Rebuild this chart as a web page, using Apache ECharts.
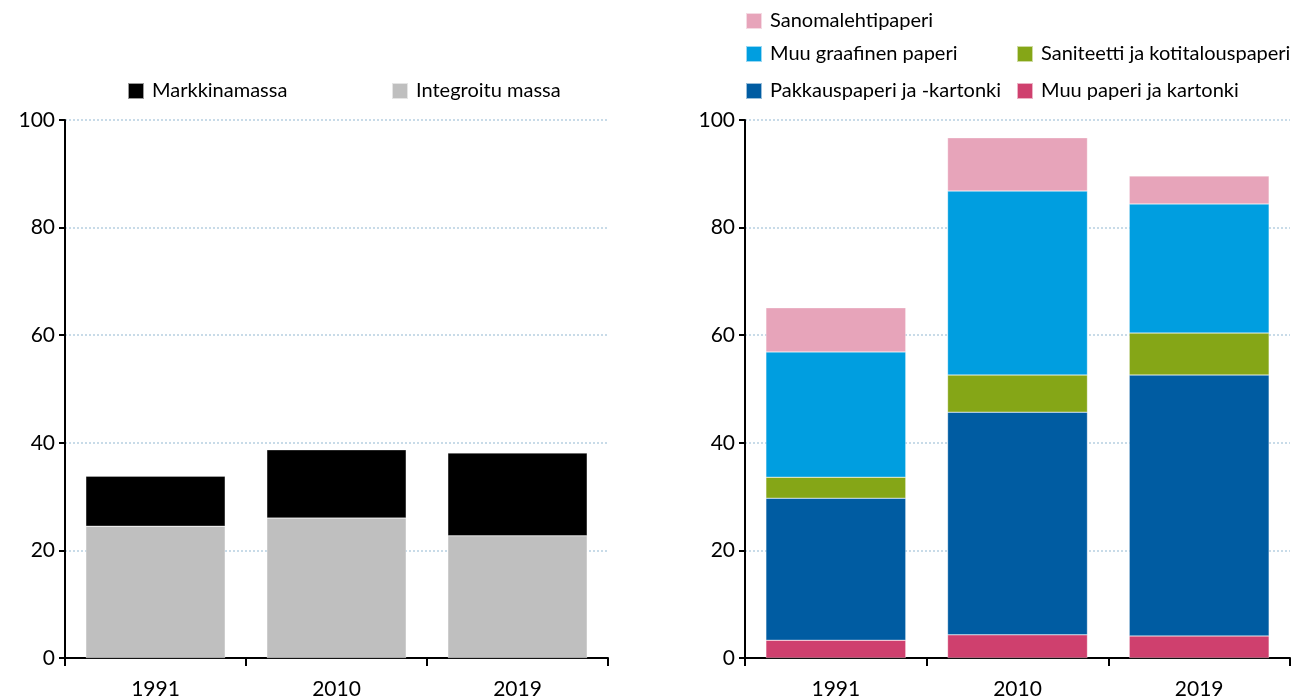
<!DOCTYPE html>
<html>
<head>
<meta charset="utf-8">
<script src="https://cdn.jsdelivr.net/npm/echarts@6/dist/echarts.min.js"></script>
<style>
  html, body { margin: 0; padding: 0; background: #fff; }
  #chart { width: 1302px; height: 700px; }
</style>
</head>
<body>
<div id="chart"></div>
<script>
// vuodet
const years = ['1991', '2010', '2019']

// vasen: massa
const integroitu = [24.5, 26.0, 22.7]
const markkina = [9.3, 12.7, 15.4]

// oikea: paperi ja kartonki
const muuPaperi = [3.3, 4.3, 4.1]
const pakkaus = [26.4, 41.4, 48.5]
const saniteetti = [3.9, 6.9, 7.8]
const graafinen = [23.3, 34.2, 24.0]
const sanomalehti = [8.2, 9.9, 5.2]

const font = 'Lato, "Open Sans", sans-serif'

function yAxis( idx ) {
  return {
    type : 'value',
    gridIndex : idx,
    min : 0,
    max : 100,
    interval : 20,
    axisLine : { show : true, lineStyle : { color : '#000', width : 2 } },
    axisTick : { show : true, length : 6, lineStyle : { color : '#000', width : 2 } },
    axisLabel : { fontSize : 21, color : '#000', margin : 10, fontFamily : font },
    splitLine : { lineStyle : { color : '#c8dbe8', width : 2, type : [2, 2] } }
  }
}

function xAxis( idx ) {
  return {
    type : 'category',
    gridIndex : idx,
    data : years,
    axisLine : { lineStyle : { color : '#000', width : 2 } },
    axisTick : { show : true, length : 8, lineStyle : { color : '#000', width : 2 } },
    axisLabel : { fontSize : 21, color : '#000', margin : 21, fontFamily : font }
  }
}

function bar( name, data, color, idx, stack ) {
  return {
    name : name,
    type : 'bar',
    stack : stack,
    xAxisIndex : idx,
    yAxisIndex : idx,
    barCategoryGap : '23%',
    itemStyle : { color : color, borderColor : 'rgba(255,255,255,0.6)', borderWidth : 0.5 },
    data : data
  }
}

function legendItem( name, left, top ) {
  return {
    data : [name],
    left : left,
    top : top,
    padding : 0,
    itemWidth : 16,
    itemHeight : 16,
    icon : 'rect',
    selectedMode : false,
    textStyle : { fontSize : 20, color : '#000', fontFamily : font, padding : [0, 0, 0, 3] }
  }
}

const chart = echarts.init( document.getElementById( 'chart' ) )

chart.setOption( {
  animation : false,
  backgroundColor : '#fff',
  grid : [
    { left : 65, right : 694, top : 120, bottom : 42 },
    { left : 745, right : 12, top : 120, bottom : 42 }
  ],
  legend : [
    legendItem( 'Markkinamassa', 127, 81 ),
    legendItem( 'Integroitu massa', 391, 81 ),
    legendItem( 'Sanomalehtipaperi', 745, 11 ),
    legendItem( 'Muu graafinen paperi', 745, 44 ),
    legendItem( 'Saniteetti ja kotitalouspaperi', 1016, 44 ),
    legendItem( 'Pakkauspaperi ja -kartonki', 745, 81 ),
    legendItem( 'Muu paperi ja kartonki', 1016, 81 )
  ],
  xAxis : [xAxis( 0 ), xAxis( 1 )],
  yAxis : [yAxis( 0 ), yAxis( 1 )],
  series : [
    bar( 'Integroitu massa', integroitu, '#bfbfbf', 0, 'a' ),
    bar( 'Markkinamassa', markkina, '#000000', 0, 'a' ),
    bar( 'Muu paperi ja kartonki', muuPaperi, '#cf406e', 1, 'b' ),
    bar( 'Pakkauspaperi ja -kartonki', pakkaus, '#005ca2', 1, 'b' ),
    bar( 'Saniteetti ja kotitalouspaperi', saniteetti, '#85a617', 1, 'b' ),
    bar( 'Muu graafinen paperi', graafinen, '#009ee0', 1, 'b' ),
    bar( 'Sanomalehtipaperi', sanomalehti, '#e7a4ba', 1, 'b' )
  ]
} )
</script>
</body>
</html>
